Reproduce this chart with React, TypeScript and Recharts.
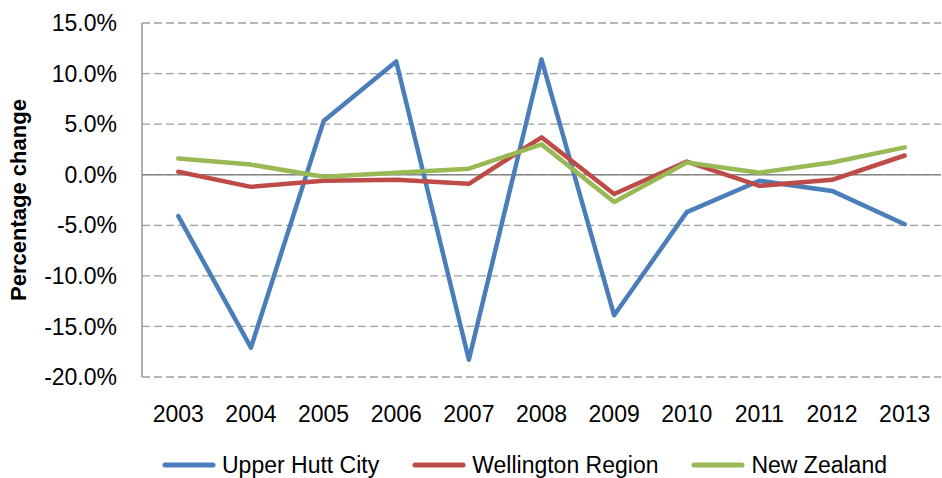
import {
  LineChart, Line, XAxis, YAxis, CartesianGrid, ReferenceLine, Legend,
} from "recharts";

const years = ["2003", "2004", "2005", "2006", "2007", "2008", "2009", "2010", "2011", "2012", "2013"];
const upperHutt = [-4.1, -17.1, 5.3, 11.2, -18.3, 11.4, -13.9, -3.7, -0.6, -1.6, -4.9];
const wellington = [0.3, -1.2, -0.6, -0.5, -0.9, 3.7, -1.9, 1.3, -1.1, -0.5, 1.9];
const newZealand = [1.6, 1.0, -0.2, 0.2, 0.6, 3.0, -2.7, 1.2, 0.2, 1.2, 2.7];
const yTicks = [-20, -15, -10, -5, 0, 5, 10, 15];

const series = [
  { key: "upperHutt", name: "Upper Hutt City", color: "#4A7EBB" },
  { key: "wellington", name: "Wellington Region", color: "#BE4B48" },
  { key: "newZealand", name: "New Zealand", color: "#98B954" },
];

const data = years.map((year, i) => ({
  year,
  upperHutt: upperHutt[i],
  wellington: wellington[i],
  newZealand: newZealand[i],
}));

const font = "'Liberation Sans', Arial, sans-serif";

function LegendContent() {
  return (
    <div style={{ display: "flex", alignItems: "center", height: 26, paddingLeft: 162, fontFamily: font, fontSize: 23, color: "#000" }}>
      {series.map((s) => (
        <div key={s.key} style={{ display: "flex", alignItems: "center", marginRight: 33 }}>
          <svg width={54} height={8} style={{ marginRight: 6 }}>
            <line x1={3} y1={4} x2={51} y2={4} stroke={s.color} strokeWidth={5} strokeLinecap="round" />
          </svg>
          <span style={{ whiteSpace: "nowrap" }}>{s.name}</span>
        </div>
      ))}
    </div>
  );
}

export default function App() {
  return (
    <div style={{ position: "absolute", left: 0, top: 0, background: "#fff" }}>
      <LineChart width={942} height={478} data={data} margin={{ top: 23, right: 1, bottom: 0, left: 0 }}>
        <CartesianGrid vertical={false} stroke="#A0A0A0" strokeWidth={1.3} strokeDasharray="8 4" />
        <XAxis
          dataKey="year"
          scale="band"
          axisLine={false}
          tickLine={false}
          tickSize={0}
          tickMargin={29}
          height={75}
          tick={{ fontSize: 23, fill: "#000", fontFamily: font }}
        />
        <YAxis
          domain={[-20, 15]}
          ticks={yTicks}
          width={142}
          tickFormatter={(v: number) => `${v.toFixed(1)}%`}
          axisLine={{ stroke: "#868686", strokeWidth: 1.3 }}
          tickLine={false}
          tickSize={0}
          tickMargin={25}
          tick={{ fontSize: 23, fill: "#000", fontFamily: font }}
          label={{
            value: "Percentage change",
            angle: -90,
            position: "insideLeft",
            offset: 18,
            style: { textAnchor: "middle", fontSize: 22, fontWeight: "bold", fill: "#000", fontFamily: font },
          }}
        />
        <ReferenceLine y={0} stroke="#868686" strokeWidth={1.5} />
        {series.map((s) => (
          <Line
            key={s.key}
            type="linear"
            dataKey={s.key}
            name={s.name}
            stroke={s.color}
            strokeWidth={4.5}
            strokeLinejoin="round"
            strokeLinecap="round"
            dot={false}
            activeDot={false}
            isAnimationActive={false}
          />
        ))}
        <Legend verticalAlign="bottom" content={() => <LegendContent />} />
      </LineChart>
    </div>
  );
}
